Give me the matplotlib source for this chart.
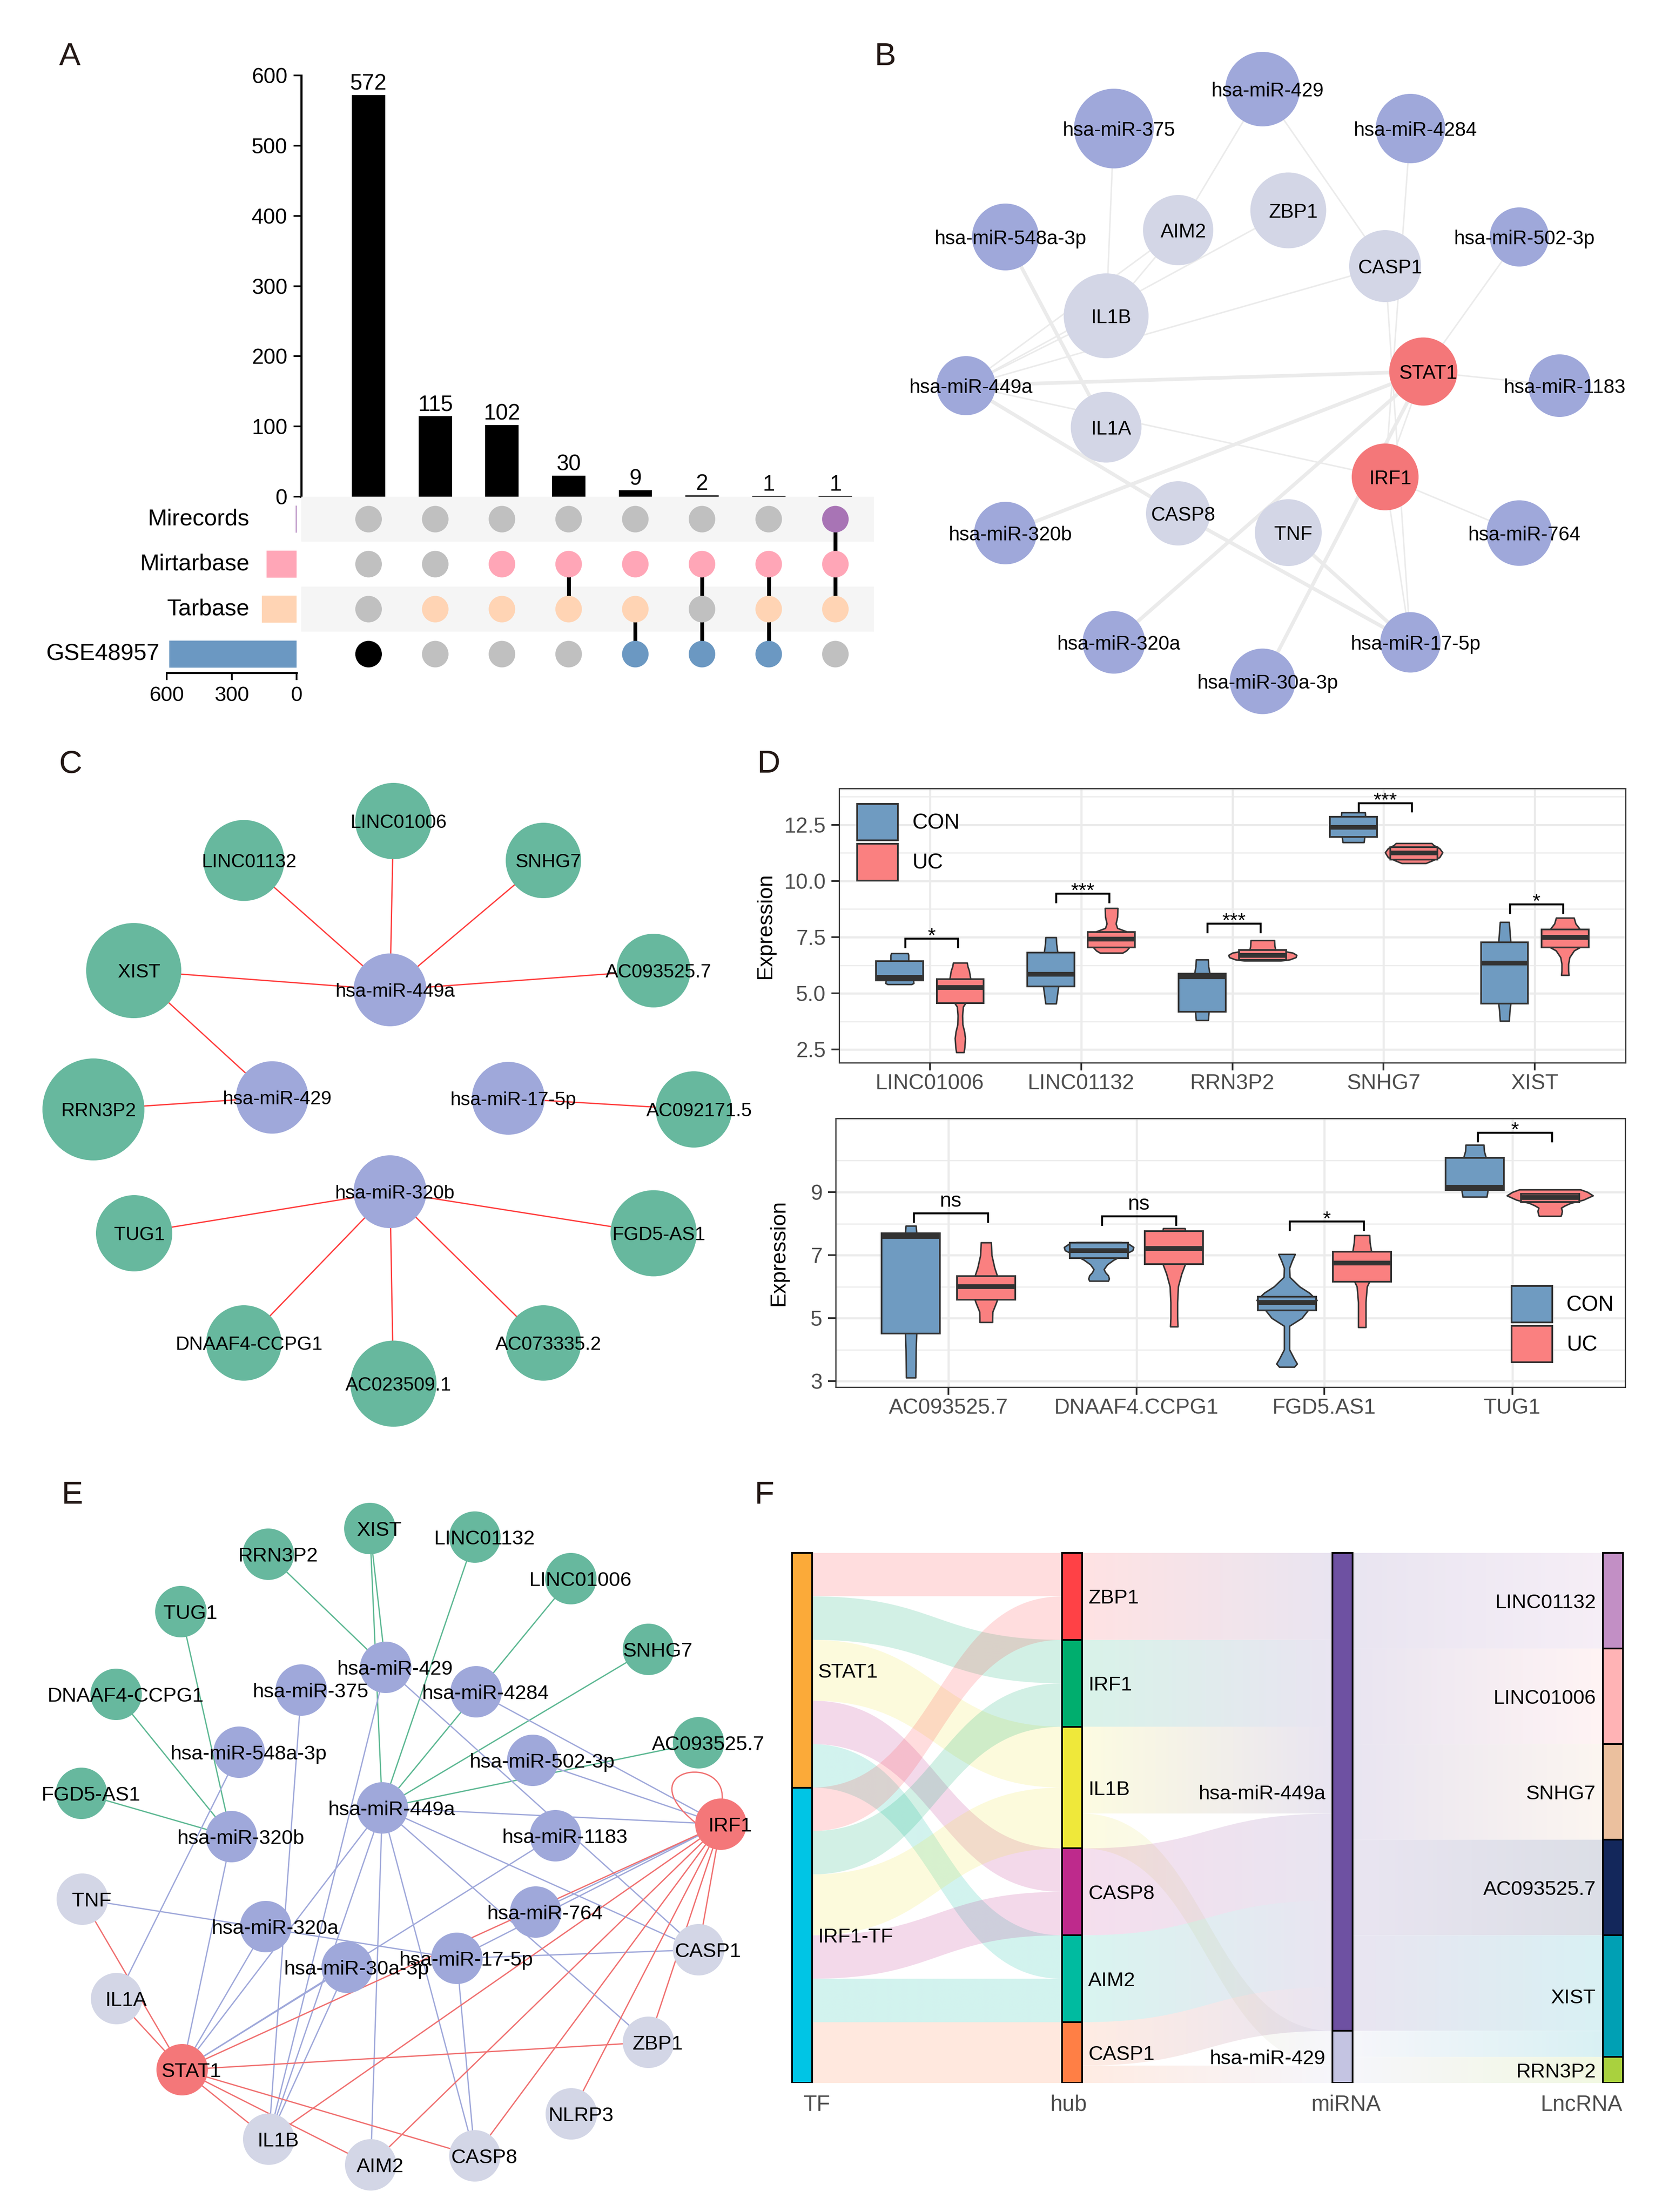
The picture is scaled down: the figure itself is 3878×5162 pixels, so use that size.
import numpy as np
import matplotlib
matplotlib.use("Agg")
import matplotlib.pyplot as plt
from matplotlib.patches import Circle, Rectangle, PathPatch, Patch
from matplotlib.path import Path
from matplotlib.colors import to_rgb

plt.rcParams['font.family'] = ['Liberation Sans', 'DejaVu Sans']

# ======================= DATA =======================
# ---- A: UpSet ----
upset_counts = [572, 115, 102, 30, 9, 2, 1, 1]
set_names = ["Mirecords", "Mirtarbase", "Tarbase", "GSE48957"]
set_sizes = [1, 137, 158, 586]
# 0 = grey, 1 = set colour, 2 = black
membership = [[0, 0, 0, 2], [0, 0, 1, 0], [0, 1, 1, 0], [0, 1, 1, 0],
              [0, 1, 1, 1], [0, 1, 0, 1], [0, 1, 1, 1], [1, 1, 1, 0]]
link_rows = [None, None, None, (1, 2), (2, 3), (1, 3), (1, 3), (0, 2)]

# ---- B: PPI / miRNA network ----
B_names = ["hsa-miR-429", "hsa-miR-375", "hsa-miR-4284", "ZBP1", "AIM2", "hsa-miR-548a-3p",
           "hsa-miR-502-3p", "CASP1", "IL1B", "hsa-miR-449a", "STAT1", "hsa-miR-1183", "IL1A",
           "IRF1", "CASP8", "TNF", "hsa-miR-320b", "hsa-miR-764", "hsa-miR-320a",
           "hsa-miR-17-5p", "hsa-miR-30a-3p"]
B_kind = ["mir", "mir", "mir", "gene", "gene", "mir", "mir", "gene", "gene", "mir", "tf", "mir",
          "gene", "tf", "gene", "gene", "mir", "mir", "mir", "mir", "mir"]
B_edges = [("hsa-miR-375", "IL1B", 0), ("hsa-miR-429", "AIM2", 0), ("hsa-miR-429", "CASP1", 0),
           ("hsa-miR-4284", "IRF1", 0), ("hsa-miR-548a-3p", "IL1A", 1), ("hsa-miR-502-3p", "STAT1", 0),
           ("hsa-miR-449a", "IL1B", 0), ("hsa-miR-449a", "AIM2", 0), ("hsa-miR-449a", "ZBP1", 0),
           ("hsa-miR-449a", "CASP1", 0), ("hsa-miR-449a", "STAT1", 1), ("hsa-miR-449a", "IRF1", 0),
           ("hsa-miR-449a", "CASP8", 1), ("CASP8", "hsa-miR-17-5p", 1), ("STAT1", "hsa-miR-1183", 0),
           ("STAT1", "hsa-miR-320b", 1), ("STAT1", "hsa-miR-320a", 1), ("STAT1", "IRF1", 0),
           ("STAT1", "hsa-miR-30a-3p", 1), ("IRF1", "hsa-miR-764", 0), ("IRF1", "hsa-miR-17-5p", 0),
           ("CASP1", "hsa-miR-17-5p", 0), ("TNF", "hsa-miR-17-5p", 1), ("IL1B", "AIM2", 0)]
# layout (pixel-space of the panel)
B_lx = [2946, 2599, 3291, 3006, 2749, 2346, 3545, 3232, 2581, 2254, 3321, 3639, 2581, 3232, 2749,
        3006, 2346, 3545, 2599, 3291, 2946]
B_ly = [208, 300, 300, 491, 537, 553, 553, 621, 737, 900, 867, 900, 997, 1113, 1198, 1243, 1244,
        1244, 1499, 1499, 1590]
B_d = [174, 186, 162, 177, 164, 156, 138, 168, 198, 138, 159, 146, 165, 156, 150, 156, 146, 153,
       146, 141, 153]

# ---- C: ceRNA network ----
C_names = ["LINC01006", "LINC01132", "SNHG7", "XIST", "AC093525.7", "hsa-miR-449a", "RRN3P2",
           "hsa-miR-429", "hsa-miR-17-5p", "AC092171.5", "hsa-miR-320b", "TUG1", "FGD5-AS1",
           "DNAAF4-CCPG1", "AC023509.1", "AC073335.2"]
C_kind = ["lnc", "lnc", "lnc", "lnc", "lnc", "mir", "lnc", "mir", "mir", "lnc", "mir", "lnc", "lnc",
          "lnc", "lnc", "lnc"]
C_edges = [("hsa-miR-449a", "LINC01132"), ("hsa-miR-449a", "LINC01006"), ("hsa-miR-449a", "SNHG7"),
           ("hsa-miR-449a", "XIST"), ("hsa-miR-449a", "AC093525.7"), ("hsa-miR-429", "XIST"),
           ("hsa-miR-429", "RRN3P2"), ("hsa-miR-17-5p", "AC092171.5"), ("hsa-miR-320b", "TUG1"),
           ("hsa-miR-320b", "FGD5-AS1"), ("hsa-miR-320b", "DNAAF4-CCPG1"),
           ("hsa-miR-320b", "AC023509.1"), ("hsa-miR-320b", "AC073335.2")]
C_lx = [918, 569, 1268, 312, 1525, 910, 218, 635, 1186, 1619, 910, 313, 1525, 569, 918, 1268]
C_ly = [1916, 2008, 2008, 2265, 2265, 2310, 2589, 2561, 2563, 2589, 2781, 2878, 2878, 3134, 3229, 3134]
C_d = [178, 189, 176, 222, 172, 170, 238, 169, 170, 178, 170, 178, 201, 176, 201, 176]

# ---- D: expression ----
D1_genes = ['LINC01006', 'LINC01132', 'RRN3P2', 'SNHG7', 'XIST']
D1_con_q1 = [5.58, 5.30, 4.18, 11.97, 4.54]
D1_con_med = [5.72, 5.85, 5.75, 12.41, 6.35]
D1_con_q3 = [6.43, 6.82, 5.87, 12.87, 7.27]
D1_uc_q1 = [4.57, 7.05, 6.48, 10.95, 7.05]
D1_uc_med = [5.26, 7.42, 6.70, 11.25, 7.50]
D1_uc_q3 = [5.63, 7.73, 6.93, 11.51, 7.84]
D1_con_vy = [[5.40, 5.45, 5.60, 6.00, 6.40, 6.50, 6.70, 6.78],
             [4.54, 4.80, 5.30, 6.00, 6.80, 7.20, 7.49],
             [3.80, 4.20, 5.00, 5.90, 6.20, 6.50],
             [11.72, 11.97, 12.40, 12.87, 13.05],
             [3.77, 4.20, 4.54, 5.50, 6.50, 7.27, 7.80, 8.17]]
D1_con_vw = [[0.080, 0.093, 0.090, 0.070, 0.060, 0.059, 0.059, 0.055],
             [0.035, 0.040, 0.050, 0.060, 0.045, 0.037, 0.035],
             [0.040, 0.045, 0.060, 0.050, 0.042, 0.040],
             [0.070, 0.075, 0.100, 0.080, 0.078],
             [0.030, 0.034, 0.040, 0.060, 0.060, 0.040, 0.034, 0.030]]
D1_uc_vy = [[2.37, 2.60, 3.00, 3.30, 3.60, 4.00, 4.40, 4.60, 5.00, 5.60, 6.00, 6.20, 6.36],
            [6.80, 6.90, 7.05, 7.40, 7.75, 7.90, 8.10, 8.40, 8.79],
            [6.45, 6.50, 6.60, 6.70, 6.80, 6.90, 6.95, 7.10, 7.36],
            [10.79, 10.90, 11.05, 11.27, 11.45, 11.60, 11.68],
            [5.81, 6.00, 6.30, 6.60, 6.90, 7.05, 7.50, 7.84, 8.10, 8.36]]
D1_uc_vw = [[0.025, 0.030, 0.034, 0.028, 0.017, 0.015, 0.020, 0.040, 0.070, 0.070, 0.060, 0.050, 0.046],
            [0.075, 0.100, 0.120, 0.130, 0.100, 0.040, 0.030, 0.040, 0.042],
            [0.120, 0.180, 0.220, 0.225, 0.200, 0.120, 0.085, 0.080, 0.078],
            [0.080, 0.120, 0.170, 0.190, 0.170, 0.130, 0.118],
            [0.025, 0.022, 0.022, 0.030, 0.060, 0.100, 0.120, 0.100, 0.070, 0.059]]
D1_sig = ['*', '***', '***', '***', '*']
D1_sig_y = [7.45, 9.45, 8.11, 13.48, 8.97]

D2_genes = ['AC093525.7', 'DNAAF4.CCPG1', 'FGD5.AS1', 'TUG1']
D2_con_q1 = [4.51, 6.90, 5.25, 9.07]
D2_con_med = [7.60, 7.15, 5.50, 9.17]
D2_con_q3 = [7.70, 7.40, 5.68, 10.09]
D2_uc_q1 = [5.59, 6.72, 6.16, 8.69]
D2_uc_med = [6.01, 7.22, 6.76, 8.84]
D2_uc_q3 = [6.33, 7.76, 7.11, 8.94]
D2_con_vy = [[3.11, 4.00, 4.51, 6.00, 7.70, 7.93],
             [6.18, 6.25, 6.35, 6.45, 6.55, 6.70, 6.85, 7.00, 7.15, 7.25, 7.35, 7.41],
             [3.45, 3.55, 3.70, 4.00, 4.75, 5.00, 5.30, 5.57, 5.80, 6.00, 6.30, 6.59, 6.80, 7.03],
             [8.85, 9.07, 9.50, 10.09, 10.30, 10.50]]
D2_con_vw = [[0.025, 0.027, 0.030, 0.050, 0.030, 0.027],
             [0.050, 0.055, 0.050, 0.035, 0.027, 0.045, 0.080, 0.130, 0.180, 0.185, 0.160, 0.120],
             [0.040, 0.055, 0.040, 0.014, 0.014, 0.080, 0.120, 0.160, 0.120, 0.068, 0.016, 0.014, 0.027, 0.044],
             [0.064, 0.070, 0.080, 0.060, 0.050, 0.048]]
D2_uc_vy = [[4.87, 5.00, 5.20, 5.50, 5.59, 6.00, 6.33, 6.60, 7.00, 7.40],
            [4.73, 5.00, 5.50, 6.00, 6.40, 6.72, 7.20, 7.76, 7.85],
            [4.71, 5.00, 5.50, 6.00, 6.16, 6.60, 7.11, 7.40, 7.63],
            [8.24, 8.30, 8.40, 8.50, 8.57, 8.65, 8.75, 8.89, 9.00, 9.08]]
D2_uc_vw = [[0.034, 0.034, 0.035, 0.055, 0.060, 0.070, 0.060, 0.045, 0.030, 0.027],
            [0.020, 0.018, 0.018, 0.022, 0.040, 0.060, 0.070, 0.060, 0.058],
            [0.020, 0.020, 0.020, 0.027, 0.040, 0.060, 0.050, 0.042, 0.040],
            [0.058, 0.062, 0.065, 0.060, 0.080, 0.110, 0.177, 0.229, 0.200, 0.163]]
D2_sig = ['ns', 'ns', '*', '*']
D2_sig_y = [8.33, 8.24, 8.07, 10.89]

# ---- E: integrated network ----
E_names = ["XIST", "RRN3P2", "LINC01132", "LINC01006", "TUG1", "SNHG7", "DNAAF4-CCPG1",
           "AC093525.7", "FGD5-AS1", "hsa-miR-429", "hsa-miR-375", "hsa-miR-4284",
           "hsa-miR-548a-3p", "hsa-miR-502-3p", "hsa-miR-449a", "hsa-miR-320b", "hsa-miR-1183",
           "hsa-miR-764", "hsa-miR-320a", "hsa-miR-30a-3p", "hsa-miR-17-5p", "IRF1", "STAT1",
           "TNF", "IL1A", "CASP1", "ZBP1", "NLRP3", "IL1B", "AIM2", "CASP8"]
E_kind = ["lnc"] * 9 + ["mir"] * 12 + ["tf", "tf"] + ["gene"] * 8
E_lx = [863, 626, 1108, 1332, 422, 1513, 271, 1630, 190, 900, 703, 1111, 558, 1243, 892, 540,
        1296, 1250, 620, 810, 1066, 1682, 425, 192, 272, 1630, 1513, 1333, 627, 865, 1108]
E_ly = [3567, 3627, 3587, 3684, 3761, 3849, 3954, 4067, 4185, 3891, 3944, 3948, 4089, 4108, 4219,
        4286, 4284, 4462, 4496, 4591, 4570, 4257, 4830, 4432, 4664, 4550, 4766, 4933, 4992, 5052,
        5031]
E_green = [("RRN3P2", "hsa-miR-429"), ("XIST", "hsa-miR-429"), ("XIST", "hsa-miR-449a"),
           ("LINC01132", "hsa-miR-449a"), ("LINC01006", "hsa-miR-449a"), ("SNHG7", "hsa-miR-449a"),
           ("AC093525.7", "hsa-miR-449a"), ("TUG1", "hsa-miR-320b"),
           ("DNAAF4-CCPG1", "hsa-miR-320b"), ("FGD5-AS1", "hsa-miR-320b")]
E_blue = [("hsa-miR-429", "IL1B"), ("hsa-miR-429", "CASP1"), ("hsa-miR-375", "IL1B"),
          ("hsa-miR-548a-3p", "IL1A"), ("hsa-miR-4284", "IRF1"), ("hsa-miR-502-3p", "IRF1"),
          ("hsa-miR-449a", "IRF1"), ("hsa-miR-449a", "CASP1"), ("hsa-miR-449a", "ZBP1"),
          ("hsa-miR-449a", "STAT1"), ("hsa-miR-449a", "IL1B"), ("hsa-miR-449a", "AIM2"),
          ("hsa-miR-449a", "CASP8"), ("hsa-miR-320b", "STAT1"), ("TNF", "hsa-miR-17-5p"),
          ("hsa-miR-320a", "STAT1"), ("hsa-miR-30a-3p", "STAT1"), ("hsa-miR-1183", "STAT1"),
          ("hsa-miR-30a-3p", "IL1B"), ("hsa-miR-764", "IRF1"), ("hsa-miR-17-5p", "IRF1"),
          ("hsa-miR-17-5p", "CASP1"), ("hsa-miR-17-5p", "CASP8")]
E_red = [("TNF", "STAT1"), ("IL1A", "STAT1"), ("STAT1", "IRF1"), ("STAT1", "ZBP1"),
         ("STAT1", "IL1B"), ("STAT1", "AIM2"), ("STAT1", "CASP8"), ("IRF1", "IL1B"),
         ("IRF1", "AIM2"), ("IRF1", "CASP8"), ("IRF1", "NLRP3"), ("IRF1", "ZBP1"),
         ("IRF1", "CASP1")]
E_selfloop = ["IRF1"]

# ---- F: Sankey ----
F_tf = ['STAT1', 'IRF1-TF']
F_hub = ['ZBP1', 'IRF1', 'IL1B', 'CASP8', 'AIM2', 'CASP1']
F_mir = ['hsa-miR-449a', 'hsa-miR-429']
F_lnc = ['LINC01132', 'LINC01006', 'SNHG7', 'AC093525.7', 'XIST', 'RRN3P2']
F_tf_hub = [('STAT1', 'ZBP1', 1.0), ('STAT1', 'IRF1', 1.0), ('STAT1', 'IL1B', 1.4),
            ('STAT1', 'CASP8', 1.0), ('STAT1', 'AIM2', 1.0),
            ('IRF1-TF', 'ZBP1', 1.0), ('IRF1-TF', 'IRF1', 1.0), ('IRF1-TF', 'IL1B', 1.4),
            ('IRF1-TF', 'CASP8', 1.0), ('IRF1-TF', 'AIM2', 1.0), ('IRF1-TF', 'CASP1', 1.4)]
F_hub_mir = [('ZBP1', 'hsa-miR-449a', 2.0), ('IRF1', 'hsa-miR-449a', 2.0),
             ('IL1B', 'hsa-miR-449a', 2.0), ('IL1B', 'hsa-miR-429', 0.8),
             ('CASP8', 'hsa-miR-449a', 2.0), ('AIM2', 'hsa-miR-449a', 2.0),
             ('CASP1', 'hsa-miR-449a', 1.0), ('CASP1', 'hsa-miR-429', 0.4)]
F_mir_lnc = [('hsa-miR-449a', 'LINC01132', 2.2), ('hsa-miR-449a', 'LINC01006', 2.2),
             ('hsa-miR-449a', 'SNHG7', 2.2), ('hsa-miR-449a', 'AC093525.7', 2.2),
             ('hsa-miR-449a', 'XIST', 2.2), ('hsa-miR-429', 'XIST', 0.6),
             ('hsa-miR-429', 'RRN3P2', 0.6)]
F_axis_labels = ['TF', 'hub', 'miRNA', 'LncRNA']

# ======================= STYLE =======================
W, H = 3878, 5162
P = 0.72  # points per pixel at dpi 100
fig = plt.figure(figsize=(W / 100, H / 100), dpi=100)


def px_axes(x0, y0, x1, y1):
    return fig.add_axes([x0 / W, 1 - y1 / H, (x1 - x0) / W, (y1 - y0) / H])


set_colors = ['#A874B5', '#FFA6B7', '#FFD4B4', '#6B98C2']
GREY = '#C0C0C0'
NODE_COL = {'mir': '#9FA8DA', 'gene': '#D3D6E6', 'tf': '#F47779', 'lnc': '#67B89E'}
CON_COL, UC_COL, DK = '#6F9BC1', '#FA8080', '#333333'
F_colors = {'STAT1': '#FBAA39', 'IRF1-TF': '#00C5E5',
            'ZBP1': '#FF4146', 'IRF1': '#00AE6E', 'IL1B': '#EFE83A', 'CASP8': '#BE2A8C',
            'AIM2': '#00BBA0', 'CASP1': '#FF7F45',
            'hsa-miR-449a': '#6E51A2', 'hsa-miR-429': '#C4C4E2',
            'LINC01132': '#C28FC5', 'LINC01006': '#FFB3B5', 'SNHG7': '#EBC09E',
            'AC093525.7': '#13275B', 'XIST': '#00A0B4', 'RRN3P2': '#A9D13E'}

# ======================= PANEL A =======================
XL = (-1.009, 7.577)
axb = px_axes(703, 176, 2039, 1159)
xs = np.arange(len(upset_counts))
axb.bar(xs, upset_counts, width=0.5, color='black', zorder=2)
axb.set_xlim(*XL)
axb.set_ylim(0, 600)
for s in ('top', 'right', 'bottom'):
    axb.spines[s].set_visible(False)
axb.spines['left'].set_linewidth(5 * P)
axb.set_xticks([])
axb.set_yticks(np.arange(0, 601, 100))
axb.tick_params(axis='y', length=18 * P, width=4 * P, labelsize=36, pad=14 * P)
axb.patch.set_alpha(0)
for x, v in zip(xs, upset_counts):
    axb.annotate(str(v), (x, v), xytext=(0, 1), textcoords='offset points',
                 ha='center', va='bottom', fontsize=37)

axm = px_axes(703, 1159, 2039, 1579)
axm.set_xlim(*XL)
axm.set_ylim(3.5, -0.5)
axm.axis('off')
for r in (0, 2):
    axm.axhspan(r - 0.5, r + 0.5, color='#F5F5F5', zorder=0, lw=0)
for ci, (mem, link) in enumerate(zip(membership, link_rows)):
    if link is not None:
        axm.vlines(ci, link[0], link[1], color='black', lw=9 * P, zorder=2)
    cols = [GREY if m == 0 else ('black' if m == 2 else set_colors[ri]) for ri, m in enumerate(mem)]
    axm.scatter([ci] * 4, np.arange(4), s=(62 * P) ** 2, c=cols, zorder=3, linewidths=0)

axs = px_axes(389, 1159, 692, 1570)
axs.barh(np.arange(4), set_sizes, height=0.58, color=set_colors, edgecolor=set_colors, lw=1.5)
axs.set_xlim(600, 0)
axs.set_ylim(3.414, -0.5)
for s in ('top', 'right', 'left'):
    axs.spines[s].set_visible(False)
axs.spines['bottom'].set_linewidth(5 * P)
axs.set_xticks([600, 300, 0])
axs.set_yticks([])
axs.tick_params(axis='x', length=17 * P, width=4 * P, labelsize=35, pad=14 * P)
axs.patch.set_alpha(0)
for r, (n, sz) in enumerate(zip(set_names, set_sizes)):
    axs.text(max(sz, 170) + 48, r, n, ha='right', va='center', fontsize=39)


# ======================= NETWORKS =======================
def draw_nodes(ax, names, kinds, lx, ly, diam, fs, dx):
    for n, k, x, y, d in zip(names, kinds, lx, ly, diam):
        ax.add_patch(Circle((x, y), d / 2, fc=NODE_COL[k], ec='none', zorder=2))
        ax.text(x + dx, y, n, ha='center', va='center_baseline', fontsize=fs, zorder=3)


# ---- B ----
axB = px_axes(2000, 0, 3878, 1700)
axB.set_xlim(2000, 3878)
axB.set_ylim(1700, 0)
axB.axis('off')
posB = {n: (x, y) for n, x, y in zip(B_names, B_lx, B_ly)}
for a, b, thick in B_edges:
    axB.plot([posB[a][0], posB[b][0]], [posB[a][1], posB[b][1]], color='#EBEBEB',
             lw=(8.5 if thick else 3.5) * P, zorder=1, solid_capstyle='butt')
draw_nodes(axB, B_names, B_kind, B_lx, B_ly, B_d, 33, 12)

# ---- C ----
axC = px_axes(0, 1700, 1800, 3360)
axC.set_xlim(0, 1800)
axC.set_ylim(3360, 1700)
axC.axis('off')
posC = {n: (x, y) for n, x, y in zip(C_names, C_lx, C_ly)}
for a, b in C_edges:
    axC.plot([posC[a][0], posC[b][0]], [posC[a][1], posC[b][1]], color='#FF3C3C',
             lw=3 * P, zorder=1)
draw_nodes(axC, C_names, C_kind, C_lx, C_ly, C_d, 32, 12)

# ---- E ----
axE = px_axes(0, 3380, 1800, 5162)
axE.set_xlim(0, 1800)
axE.set_ylim(5162, 3380)
axE.axis('off')
posE = {n: (x, y) for n, x, y in zip(E_names, E_lx, E_ly)}
for edges, col in ((E_green, '#5DB893'), (E_blue, '#9FA8DA'), (E_red, '#F07070')):
    for a, b in edges:
        axE.plot([posE[a][0], posE[b][0]], [posE[a][1], posE[b][1]], color=col,
                 lw=3 * P, zorder=1)
for n in E_selfloop:
    cx, cy = posE[n]
    loop = Path([(cx + 3, cy - 58), (cx + 12, cy - 165), (cx - 215, cy - 130), (cx - 60, cy - 4)],
                [Path.MOVETO, Path.CURVE4, Path.CURVE4, Path.CURVE4])
    axE.add_patch(PathPatch(loop, fc='none', ec='#F07070', lw=3 * P, zorder=1))
draw_nodes(axE, E_names, E_kind, E_lx, E_ly, [120] * len(E_names), 34, 22)


# ======================= PANEL D =======================
def gg_axes(ax, genes, ylim, yt, ytl, ymin, ylab_x):
    ax.set_xlim(0.4, len(genes) + 0.6)
    ax.set_ylim(*ylim)
    ax.set_yticks(yt)
    ax.set_yticklabels(ytl)
    ax.set_yticks(ymin, minor=True)
    ax.set_xticks(np.arange(1, len(genes) + 1))
    ax.set_xticklabels(genes)
    ax.grid(which='major', color='#EBEBEB', lw=5 * P)
    ax.grid(which='minor', axis='y', color='#EBEBEB', lw=2.6 * P)
    ax.set_axisbelow(True)
    for s in ax.spines.values():
        s.set_color(DK)
        s.set_linewidth(2.8 * P)
    ax.tick_params(which='major', length=18 * P, width=4 * P, color=DK,
                   labelcolor='#4D4D4D', labelsize=36)
    ax.tick_params(which='minor', length=0)
    ax.tick_params(axis='y', pad=13 * P)
    ax.tick_params(axis='x', pad=8 * P)
    ax.set_ylabel('Expression', fontsize=36)
    ax.yaxis.set_label_coords(ylab_x, 0.5)


def draw_group(ax, xc, q1, med, q3, vy, vw, col):
    vy = np.asarray(vy)
    vw = np.asarray(vw)
    ax.fill_betweenx(vy, xc - vw, xc + vw, facecolor=col, edgecolor=DK, lw=3.5 * P, zorder=2)
    ax.bar(xc, q3 - q1, bottom=q1, width=0.31, color=col, edgecolor=DK, lw=4 * P, zorder=3)
    ax.hlines(med, xc - 0.155, xc + 0.155, color=DK, lw=11 * P, zorder=4)


def draw_sig(ax, xc, y, lab, l, r, tick):
    ax.plot([xc + l, xc + l, xc + r, xc + r], [y - tick, y, y, y - tick], color='black',
            lw=4.5 * P, zorder=5, solid_joinstyle='miter')
    off = 15 * P if lab == 'ns' else -8 * P
    ax.annotate(lab, (xc + (l + r) / 2, y), xytext=(0, off), textcoords='offset points',
                ha='center', va='baseline', fontsize=34 if lab != 'ns' else 35, zorder=6)


def legend(ax, fx, fy):
    hs = [Patch(facecolor=CON_COL, edgecolor=DK, lw=4 * P),
          Patch(facecolor=UC_COL, edgecolor=DK, lw=4 * P)]
    ax.legend(hs, ['CON', 'UC'], loc='upper left', bbox_to_anchor=(fx, fy), frameon=False,
              fontsize=36, handlelength=1.9, handleheight=2.25, labelspacing=0.16,
              handletextpad=0.66, borderaxespad=0, borderpad=0)


axD1 = px_axes(1958, 1840, 3793, 2480)
for i in range(len(D1_genes)):
    x = i + 1
    draw_group(axD1, x - 0.2, D1_con_q1[i], D1_con_med[i], D1_con_q3[i], D1_con_vy[i], D1_con_vw[i], CON_COL)
    draw_group(axD1, x + 0.2, D1_uc_q1[i], D1_uc_med[i], D1_uc_q3[i], D1_uc_vy[i], D1_uc_vw[i], UC_COL)
    draw_sig(axD1, x, D1_sig_y[i], D1_sig[i], -0.165, 0.185, 0.38)
gg_axes(axD1, D1_genes, (1.91, 14.12), [2.5, 5.0, 7.5, 10.0, 12.5],
        ['2.5', '5.0', '7.5', '10.0', '12.5'], [3.75, 6.25, 8.75, 11.25, 13.75], -0.081)
legend(axD1, 0.023, 0.944)

axD2 = px_axes(1950, 2610, 3792, 3237)
for i in range(len(D2_genes)):
    x = i + 1
    draw_group(axD2, x - 0.2, D2_con_q1[i], D2_con_med[i], D2_con_q3[i], D2_con_vy[i], D2_con_vw[i], CON_COL)
    draw_group(axD2, x + 0.2, D2_uc_q1[i], D2_uc_med[i], D2_uc_q3[i], D2_uc_vy[i], D2_uc_vw[i], UC_COL)
    draw_sig(axD2, x, D2_sig_y[i], D2_sig[i], -0.185, 0.21, 0.27)
gg_axes(axD2, D2_genes, (2.81, 11.34), [3, 5, 7, 9], ['3', '5', '7', '9'], [4, 6, 8, 10], -0.060)
legend(axD2, 0.856, 0.377)

# ======================= PANEL F =======================
axF = px_axes(1750, 3550, 3878, 4861)
axF.axis('off')
cols_F = [F_tf, F_hub, F_mir, F_lnc]
links_F = [F_tf_hub, F_hub_mir, F_mir_lnc]
NW = 47 / 630.7
TOTAL = sum(v for _, _, v in F_tf_hub)


def node_value(ci, name):
    out_v = sum(v for s, t, v in links_F[ci] if s == name) if ci < 3 else 0
    in_v = sum(v for s, t, v in links_F[ci - 1] if t == name) if ci > 0 else 0
    return max(out_v, in_v)


span = {}
for ci, names in enumerate(cols_F):
    cur = TOTAL
    for n in names:
        v = node_value(ci, n)
        span[(ci, n)] = (cur - v, cur)
        cur -= v


def flow(ax, x0, x1, y0t, y0b, y1t, y1b, c0, c1, alpha):
    xm = (x0 + x1) / 2
    verts = [(x0, y0t), (xm, y0t), (xm, y1t), (x1, y1t), (x1, y1b), (xm, y1b), (xm, y0b),
             (x0, y0b), (x0, y0t)]
    codes = [Path.MOVETO, Path.CURVE4, Path.CURVE4, Path.CURVE4, Path.LINETO, Path.CURVE4,
             Path.CURVE4, Path.CURVE4, Path.CLOSEPOLY]
    patch = PathPatch(Path(verts, codes), fc='none', ec='none')
    ax.add_patch(patch)
    n = 64
    t = np.linspace(0, 1, n)[:, None]
    grad = np.zeros((1, n, 4))
    grad[0, :, :3] = np.array(to_rgb(c0)) * (1 - t) + np.array(to_rgb(c1)) * t
    grad[0, :, 3] = alpha
    im = ax.imshow(grad, extent=[x0, x1, min(y0b, y1b), max(y0t, y1t)], aspect='auto',
                   interpolation='bilinear', zorder=1)
    im.set_clip_path(patch)


for li, links in enumerate(links_F):
    srcs, tgts = cols_F[li], cols_F[li + 1]
    out_ptr = {n: span[(li, n)][1] for n in srcs}
    in_ptr = {n: span[(li + 1, n)][1] for n in tgts}
    s_alloc, t_alloc = {}, {}
    for s, t, v in sorted(links, key=lambda e: (srcs.index(e[0]), tgts.index(e[1]))):
        s_alloc[(s, t)] = (out_ptr[s], out_ptr[s] - v)
        out_ptr[s] -= v
    for s, t, v in sorted(links, key=lambda e: (tgts.index(e[1]), srcs.index(e[0]))):
        t_alloc[(s, t)] = (in_ptr[t], in_ptr[t] - v)
        in_ptr[t] -= v
    for s, t, v in links:
        (y0t, y0b), (y1t, y1b) = s_alloc[(s, t)], t_alloc[(s, t)]
        c1 = F_colors[t]
        c0 = c1 if li == 0 else F_colors[s]
        flow(axF, li + NW / 2, li + 1 - NW / 2, y0t, y0b, y1t, y1b, c0, c1,
             0.18 if li == 0 else 0.15)

for ci, names in enumerate(cols_F):
    for n in names:
        b, t = span[(ci, n)]
        axF.add_patch(Rectangle((ci - NW / 2, b), NW, t - b, fc=F_colors[n], ec='black',
                                lw=4 * P, zorder=3))
        if ci < 2:
            axF.text(ci + NW / 2 + 0.022, (b + t) / 2, n, ha='left', va='center_baseline',
                     fontsize=34, zorder=4)
        else:
            axF.text(ci - NW / 2 - 0.025, (b + t) / 2, n, ha='right', va='center_baseline',
                     fontsize=34, zorder=4)

for ci, (lab, sh) in enumerate(zip(F_axis_labels, [0.055, -0.014, 0.013, -0.116])):
    axF.text(ci + sh, -0.45, lab, ha='center', va='center_baseline', fontsize=37,
             color='#4D4D4D', clip_on=False)
axF.set_xlim(-0.192, 3.182)
axF.set_ylim(0, 12.93)

# ======================= PANEL LETTERS =======================
for lab, (x, y) in zip("ABCDEF", [(163, 125), (2066, 125), (164, 1776), (1794, 1776),
                                  (169, 3482), (1784, 3482)]):
    fig.text(x / W, 1 - y / H, lab, ha='center', va='center_baseline', fontsize=54,
             color='#231815')

fig.savefig('out.png', dpi=100)
